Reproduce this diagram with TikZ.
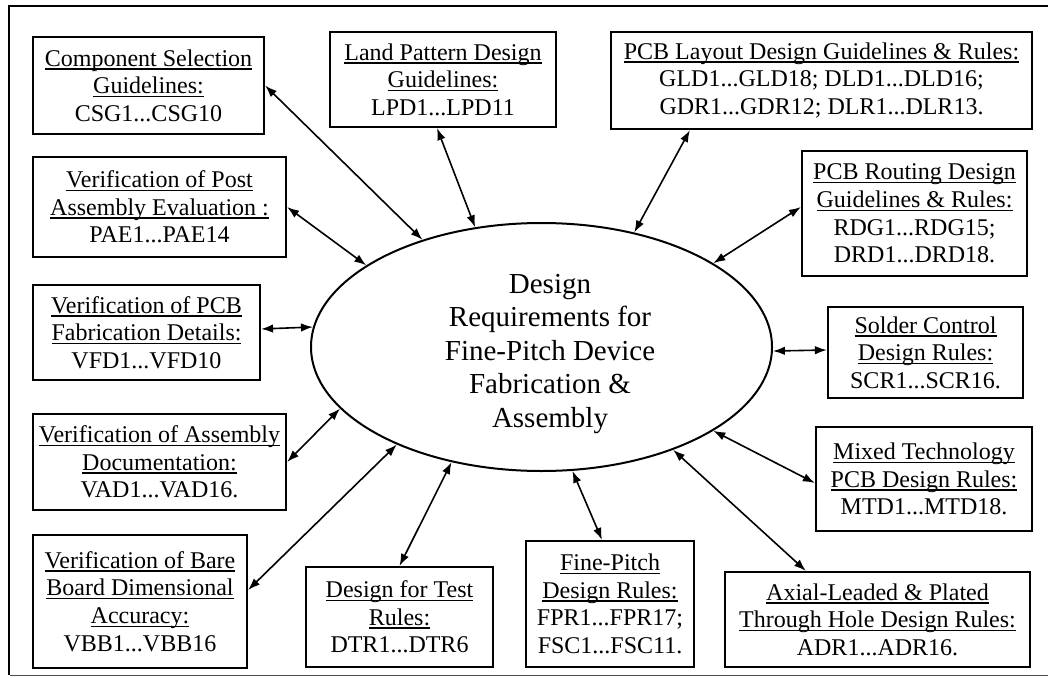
\documentclass[tikz,border=0pt]{standalone}
\usepackage{fontspec}
\setmainfont{Liberation Serif}
\usetikzlibrary{arrows.meta,shapes.geometric}
\newsavebox\ulbox
\newcommand\myul[1]{\leavevmode\sbox\ulbox{#1}\rlap{\rule[-3.5pt]{\wd\ulbox}{1.4pt}}\usebox\ulbox}
\begin{document}
\begin{tikzpicture}[x=1pt,y=-1pt,
  box/.style={draw,line width=2.2pt,inner sep=0pt,align=center,font=\fontsize{24}{27.6}\selectfont},
  link/.style={{Latex[length=12pt,width=8.5pt]}-{Latex[length=12pt,width=8.5pt]},line width=1.6pt}]
\useasboundingbox (0,0) rectangle (1048,677);
% frame
\draw[line width=2.2pt] (9,675) -- (9,6) -- (1048,6);
\draw[line width=1pt,black!70] (10,675.5) -- (1048,675.5);
% ellipse
\node[ellipse,draw,line width=2pt,inner sep=0pt,minimum width=461pt,minimum height=248pt] (ell) at (541.5,347) {};
\node[align=center,inner sep=0pt,font=\fontsize{29}{33.5}\selectfont] (title) at (550,354)
  {Design\\Requirements for\\Fine-Pitch Device\\Fabrication \&\\Assembly};
% boxes
\node[box,minimum width=231pt,minimum height=97pt] (csg) at (148.5,85.5)
  {\myul{Component Selection}\\\myul{Guidelines:}\\CSG1...CSG10};
\node[box,minimum width=226pt,minimum height=95pt] (lpd) at (443,79.5)
  {\myul{Land Pattern Design}\\\myul{Guidelines:}\\LPD1...LPD11};
\node[box,minimum width=421pt,minimum height=97pt] (lay) at (821.5,80.5)
  {\myul{PCB Layout Design Guidelines \& Rules:}\\GLD1...GLD18; DLD1...DLD16;\\GDR1...GDR12; DLR1...DLR13.};
\node[box,minimum width=225pt,minimum height=125pt] (rout) at (914.5,213.5)
  {\myul{PCB Routing Design}\\\myul{Guidelines \& Rules:}\\RDG1...RDG15;\\DRD1...DRD18.};
\node[box,minimum width=253pt,minimum height=100pt] (pae) at (159.5,207)
  {\myul{Verification of Post}\\\myul{Assembly Evaluation :}\\PAE1...PAE14};
\node[box,minimum width=227pt,minimum height=95pt] (vfd) at (146.5,332.5)
  {\myul{Verification of PCB}\\\myul{Fabrication Details:}\\VFD1...VFD10};
\node[box,minimum width=195pt,minimum height=91pt] (sol) at (925.5,352.5)
  {\myul{Solder Control}\\\myul{Design Rules:}\\SCR1...SCR16.};
\node[box,minimum width=253pt,minimum height=96pt] (vad) at (159.5,462)
  {\myul{Verification of Assembly}\\\myul{Documentation:}\\VAD1...VAD16.};
\node[box,minimum width=216pt,minimum height=104pt] (mtd) at (924,479)
  {\myul{Mixed Technology}\\\myul{PCB Design Rules:}\\MTD1...MTD18.};
\node[box,minimum width=214pt,minimum height=133pt] (vbb) at (140,601.5)
  {\myul{Verification of Bare}\\\myul{Board Dimensional}\\\myul{Accuracy:}\\VBB1...VBB16};
\node[box,minimum width=187pt,minimum height=100pt] (dtr) at (399.5,617)
  {\myul{Design for Test}\\\myul{Rules:}\\DTR1...DTR6};
\node[box,minimum width=168pt,minimum height=126pt] (fpr) at (610,604)
  {\myul{Fine-Pitch}\\\myul{Design Rules:}\\FPR1...FPR17;\\FSC1...FSC11.};
\node[box,minimum width=305pt,minimum height=95pt] (adr) at (877.5,619.5)
  {\myul{Axial-Leaded \& Plated}\\\myul{Through Hole Design Rules:}\\ADR1...ADR16.};
% connectors
\draw[link] (csg.east) -- (ell.138.7);
\draw[link] ([xshift=-6pt]lpd.south) -- (ell.119.2);
\draw[link] ([xshift=80pt]lay.south west) -- (ell.51.7);
\draw[link] ([yshift=6.5pt]rout.west) -- (ell.26.8);
\draw[link] (pae.east) -- (ell.155.6);
\draw[link] ([yshift=3.5pt]vfd.east) -- (ell.175.5);
\draw[link] ([yshift=2.5pt]sol.west) -- (ell.359.3);
\draw[link] (vad.east) -- (ell.197.5);
\draw[link] ([yshift=11.5pt]vbb.east) -- (ell.214.2);
\draw[link] (dtr.north) -- (ell.232);
\draw[link] ([xshift=-8pt]fpr.north) -- (ell.284);
\draw[link] ([xshift=82pt]adr.north west) -- (ell.322.5);
\draw[link] ([yshift=-4pt]mtd.west) -- (ell.334.8);
\end{tikzpicture}
\end{document}
